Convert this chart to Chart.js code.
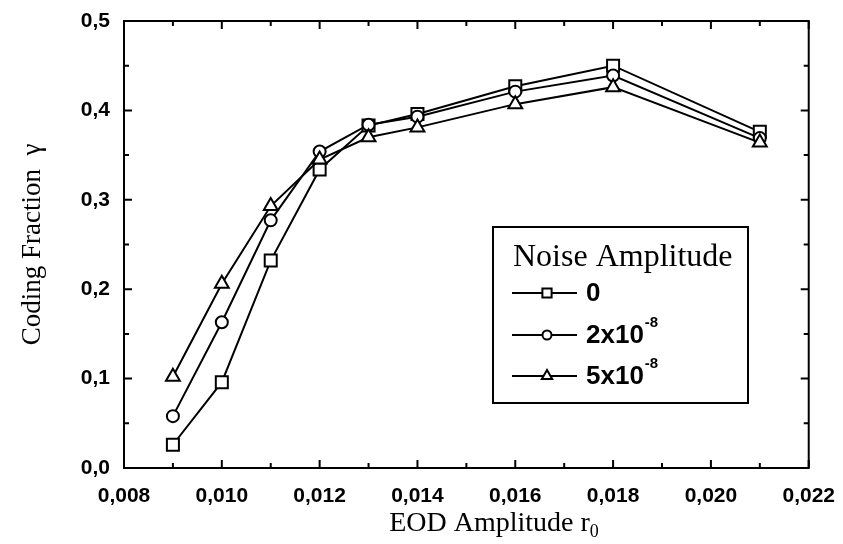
<!DOCTYPE html>
<html>
<head>
<meta charset="utf-8">
<script src="https://cdn.jsdelivr.net/npm/chart.js@4.4.1/dist/chart.umd.min.js"></script>
<style>
  html, body { margin: 0; padding: 0; background: #fff; }
  #wrap { width: 843px; height: 544px; }
</style>
</head>
<body>
<div id="wrap"><canvas id="chart"></canvas></div>
<script>
// EOD amplitude r0 (x) and coding fraction gamma for each noise amplitude
const eodAmplitude = [0.009, 0.010, 0.011, 0.012, 0.013, 0.014, 0.016, 0.018, 0.021];
const noise0   = [0.026, 0.096, 0.232, 0.334, 0.383, 0.396, 0.427, 0.450, 0.376];
const noise2e8 = [0.058, 0.163, 0.277, 0.354, 0.384, 0.393, 0.421, 0.439, 0.369];
const noise5e8 = [0.102, 0.206, 0.293, 0.345, 0.370, 0.381, 0.407, 0.426, 0.364];

const seriesNames = ['0', '2x10', '5x10'];
const seriesPowers = ['', '-8', '-8'];
const seriesMarkers = ['rect', 'circle', 'triangle'];

const xTicks = [0.008, 0.010, 0.012, 0.014, 0.016, 0.018, 0.020, 0.022];
const xMinor = [0.009, 0.011, 0.013, 0.015, 0.017, 0.019, 0.021];
const yTicks = [0.0, 0.1, 0.2, 0.3, 0.4, 0.5];
const yMinor = [0.05, 0.15, 0.25, 0.35, 0.45];

const SANS = '"Liberation Sans", Arial, sans-serif';
const SERIF = '"Liberation Serif", "DejaVu Serif", serif';
const markerRadius = { rect: 8.5, circle: 6, triangle: 8 };

function makeSet(values, i) {
  return {
    label: seriesNames[i],
    data: eodAmplitude.map((x, k) => ({ x: x, y: values[k] })),
    borderColor: '#000',
    borderWidth: 2,
    backgroundColor: '#fff',
    pointStyle: seriesMarkers[i],
    pointRadius: markerRadius[seriesMarkers[i]],
    pointBorderWidth: 2,
    pointBorderColor: '#000',
    pointBackgroundColor: '#fff',
    tension: 0
  };
}

// box with inward ticks, axis titles, in-plot legend
const framePlugin = {
  id: 'frame',
  afterDraw(chart) {
    const ctx = chart.ctx;
    const a = chart.chartArea;
    const xs = chart.scales.x, ys = chart.scales.y;
    ctx.save();
    ctx.strokeStyle = '#000';
    ctx.lineWidth = 2;
    ctx.strokeRect(a.left, a.top, a.right - a.left, a.bottom - a.top);

    function xt(v, len) {
      const p = xs.getPixelForValue(v);
      ctx.beginPath();
      ctx.moveTo(p, a.bottom); ctx.lineTo(p, a.bottom - len);
      ctx.moveTo(p, a.top); ctx.lineTo(p, a.top + len);
      ctx.stroke();
    }
    function yt(v, len) {
      const p = ys.getPixelForValue(v);
      ctx.beginPath();
      ctx.moveTo(a.left, p); ctx.lineTo(a.left + len, p);
      ctx.moveTo(a.right, p); ctx.lineTo(a.right - len, p);
      ctx.stroke();
    }
    xTicks.forEach(v => xt(v, 8));
    xMinor.forEach(v => xt(v, 5));
    yTicks.forEach(v => yt(v, 8));
    yMinor.forEach(v => yt(v, 5));

    // axis titles
    ctx.fillStyle = '#000';
    ctx.textBaseline = 'alphabetic';
    const xt0 = 'EOD Amplitude r';
    ctx.font = '28px ' + SERIF;
    const w0 = ctx.measureText(xt0).width;
    ctx.font = '18px ' + SERIF;
    const ws = ctx.measureText('0').width;
    const cx = 494, by = 531;
    ctx.font = '28px ' + SERIF;
    ctx.textAlign = 'left';
    ctx.fillText(xt0, cx - (w0 + ws) / 2, by);
    ctx.font = '18px ' + SERIF;
    ctx.fillText('0', cx - (w0 + ws) / 2 + w0, by + 6);

    ctx.save();
    ctx.translate(40, (a.top + a.bottom) / 2);
    ctx.rotate(-Math.PI / 2);
    ctx.font = '27px ' + SERIF;
    ctx.textAlign = 'center';
    ctx.fillText('Coding Fraction  \u03b3', 0, 0);
    ctx.restore();

    // legend
    const L = { x: 493, y: 227, w: 255, h: 176 };
    ctx.lineWidth = 2;
    ctx.fillStyle = '#fff';
    ctx.fillRect(L.x, L.y, L.w, L.h);
    ctx.strokeRect(L.x, L.y, L.w, L.h);
    ctx.fillStyle = '#000';
    ctx.font = '32px ' + SERIF;
    ctx.textAlign = 'left';
    ctx.fillText('Noise Amplitude', L.x + 20, L.y + 39);
    const rows = [L.y + 66, L.y + 108, L.y + 149];
    chart.data.datasets.slice().reverse().forEach(ds => {
      const i = seriesNames.indexOf(ds.label);
      const ry = rows[i];
      ctx.strokeStyle = '#000';
      ctx.lineWidth = 2;
      ctx.beginPath();
      ctx.moveTo(L.x + 19, ry); ctx.lineTo(L.x + 84, ry);
      ctx.stroke();
      ctx.fillStyle = '#fff';
      const r = ds.pointStyle === 'rect' ? 6.5 : (ds.pointStyle === 'triangle' ? 6 : 4.5);
      Chart.helpers.drawPoint(ctx, {
        pointStyle: ds.pointStyle, rotation: 0, radius: r, borderWidth: 2
      }, L.x + 54, ry);
      ctx.fillStyle = '#000';
      ctx.font = 'bold 26px ' + SANS;
      ctx.textBaseline = 'middle';
      ctx.fillText(ds.label, L.x + 93, ry + 1);
      if (seriesPowers[i]) {
        const w = ctx.measureText(ds.label).width;
        ctx.font = 'bold 15px ' + SANS;
        ctx.fillText(seriesPowers[i], L.x + 93 + w + 1, ry - 12);
      }
      ctx.textBaseline = 'alphabetic';
    });
    ctx.restore();
  }
};

new Chart(document.getElementById('chart'), {
  type: 'line',
  data: {
    datasets: [makeSet(noise5e8, 2), makeSet(noise2e8, 1), makeSet(noise0, 0)]
  },
  options: {
    responsive: true,
    maintainAspectRatio: false,
    animation: false,
    layout: { padding: { top: 21, right: 27, left: 0, bottom: 0 } },
    plugins: { legend: { display: false }, tooltip: { enabled: false } },
    scales: {
      x: {
        type: 'linear',
        min: 0.008,
        max: 0.022,
        afterBuildTicks: s => { s.ticks = xTicks.map(v => ({ value: v })); },
        afterFit: s => { s.height = 76; },
        grid: { display: false },
        border: { display: false },
        ticks: {
          color: '#000',
          padding: 8,
          maxRotation: 0,
          autoSkip: false,
          font: { family: SANS, size: 21, weight: 'bold' },
          callback: v => v.toFixed(3).replace('.', ',')
        }
      },
      y: {
        type: 'linear',
        min: 0,
        max: 0.5,
        afterBuildTicks: s => { s.ticks = yTicks.map(v => ({ value: v })); },
        afterFit: s => { s.width = 124; },
        grid: { display: false },
        border: { display: false },
        ticks: {
          color: '#000',
          padding: 6,
          autoSkip: false,
          font: { family: SANS, size: 21, weight: 'bold' },
          callback: v => v.toFixed(1).replace('.', ',')
        }
      }
    }
  },
  plugins: [framePlugin]
});
</script>
</body>
</html>
